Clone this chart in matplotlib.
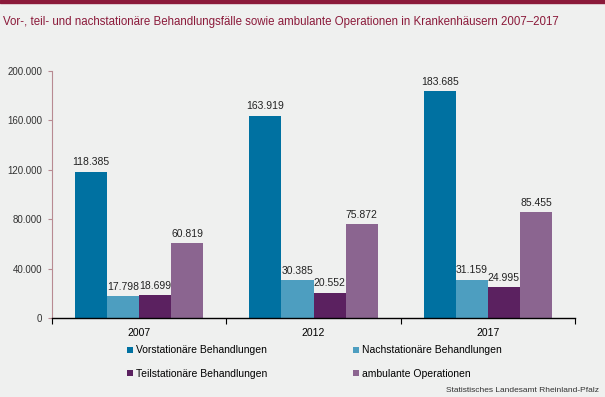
import matplotlib
matplotlib.use("Agg")
import matplotlib.pyplot as plt
from matplotlib.patches import Patch
import numpy as np

plt.rcParams["font.family"] = ["Liberation Sans", "DejaVu Sans"]

years = ["2007", "2012", "2017"]
vorstationaer = [118385, 163919, 183685]
nachstationaer = [17798, 30385, 31159]
teilstationaer = [18699, 20552, 24995]
ambulant = [60819, 75872, 85455]
series_names = ["Vorstationäre Behandlungen", "Nachstationäre Behandlungen",
                "Teilstationäre Behandlungen", "ambulante Operationen"]
colors = ["#0071a1", "#4d9ec0", "#5b2160", "#8b6590"]
yticks = [0, 40000, 80000, 120000, 160000, 200000]

BG = "#eff0ef"
fig = plt.figure(figsize=(6.05, 3.97), dpi=100, facecolor=BG)
ax = fig.add_axes([52/605, 1-318/397, 523/605, 247/397], facecolor=BG)

x = np.arange(len(years))
w = 0.184
data = [vorstationaer, nachstationaer, teilstationaer, ambulant]
for i, (vals, col) in enumerate(zip(data, colors)):
    pos = x + (i - 1.5) * w
    ax.bar(pos, vals, width=w, color=col, linewidth=0)
    for p, v in zip(pos, vals):
        ax.text(p, v + 3500, f"{v:,}".replace(",", "."), ha="center", va="bottom",
                fontsize=7.5, color="#222222")

ax.set_xlim(-0.5, 2.5)
ax.set_ylim(0, 200000)
ax.set_yticks(yticks)
ax.set_yticklabels([f"{t:,}".replace(",", ".") for t in yticks], fontsize=7, color="#333333")
ax.set_xticks([-0.5, 0.5, 1.5, 2.5])
ax.set_xticklabels([])
ax.set_xticks(x, minor=True)
ax.set_xticklabels(years, minor=True, fontsize=7.5)
ax.tick_params(axis="x", which="minor", length=0, pad=7)
ax.tick_params(axis="x", which="major", length=4, width=0.8, color="black")
ax.tick_params(axis="y", length=3, width=0.8, color="#b88a92", pad=4)
for s in ["top", "right"]:
    ax.spines[s].set_visible(False)
ax.spines["left"].set_color("#b88a92")
ax.spines["left"].set_linewidth(0.8)
ax.spines["bottom"].set_color("black")
ax.spines["bottom"].set_linewidth(1.0)

# top band and title
fig.patches.append(plt.Rectangle((0, 1-3/397), 1, 3/397, transform=fig.transFigure,
                                 color="#8b1a3a", zorder=5))
fig.text(3/605, 1-22/397, "Vor-, teil- und nachstationäre Behandlungsfälle sowie ambulante Operationen in Krankenhäusern 2007–2017",
         fontsize=8.3, color="#8b1a3a", va="center", ha="left")

handles = [Patch(facecolor=c, edgecolor="none") for c in colors]
order = [0, 2, 1, 3]
fig.legend([handles[i] for i in order], [series_names[i] for i in order], ncol=2,
           loc="upper left", bbox_to_anchor=(118/605, 1-336/397), frameon=False,
           fontsize=7.5, handlelength=0.55, handleheight=0.55, handletextpad=0.25,
           columnspacing=8.3, labelspacing=1.3)

fig.text(599/605, 1-390/397, "Statistisches Landesamt Rheinland-Pfalz", fontsize=6,
         color="#333333", ha="right", va="center")

fig.savefig("out.png", dpi=100, facecolor=BG)
